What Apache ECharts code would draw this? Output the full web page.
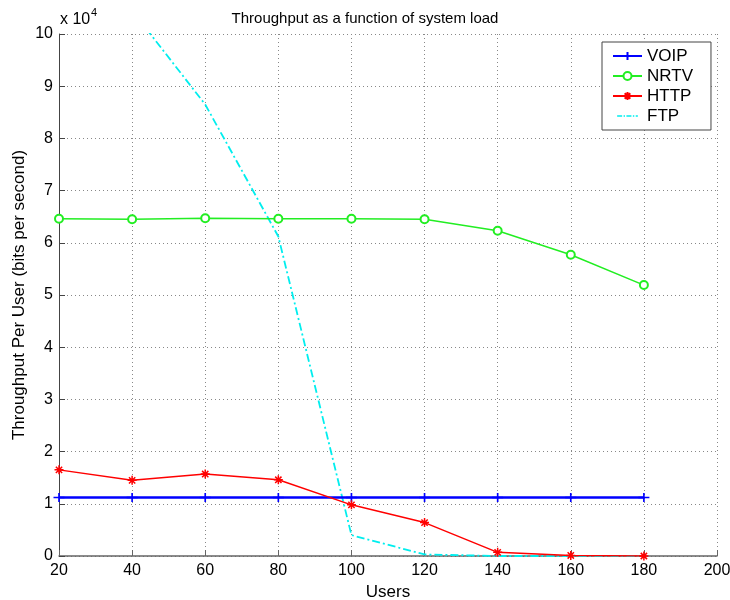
<!DOCTYPE html>
<html>
<head>
<meta charset="utf-8">
<script src="https://cdn.jsdelivr.net/npm/echarts@6/dist/echarts.min.js"></script>
<style>
html,body{margin:0;padding:0;background:#fff;}
#chart{width:730px;height:600px;}
</style>
</head>
<body>
<div id="chart"></div>
<script>
// Data (values in units of 10^4 bits per second)
const users = [20, 40, 60, 80, 100, 120, 140, 160, 180];
const voip = [1.12, 1.12, 1.12, 1.12, 1.12, 1.12, 1.12, 1.12, 1.12];
const nrtv = [6.46, 6.45, 6.47, 6.46, 6.46, 6.45, 6.23, 5.77, 5.19];
const http = [1.65, 1.45, 1.57, 1.46, 0.98, 0.64, 0.07, 0.01, 0.0];
const ftp = [12.3, 10.45, 8.65, 6.12, 0.40, 0.03, 0.0, 0.0, 0.0];
const xTicks = [20, 40, 60, 80, 100, 120, 140, 160, 180, 200];
const yTicks = [0, 1, 2, 3, 4, 5, 6, 7, 8, 9, 10];

const pairs = arr => users.map((u, i) => [u, arr[i]]);
const REG = '"Liberation Sans", Arial, sans-serif';

const plusPath = 'path://M0,-4L0,4M-5,0L5,0';
const starPath = 'path://M0,-5L0,5M-5,0L5,0M-3.5,-3.5L3.5,3.5M-3.5,3.5L3.5,-3.5';
// dash-dot legend icon (filled pieces)
const ftpIcon = 'path://M0,6h7v2h-7zM9,6h2v2h-2zM13,6h7v2h-7zM22,6h2v2h-2zM26,6h3v2h-3zM0,0h0v0zM0,14h0v0z';

const chart = echarts.init(document.getElementById('chart'), null, {renderer: 'canvas'});
chart.setOption({
  animation: false,
  backgroundColor: '#ffffff',
  title: {
    text: 'Throughput as a function of system load',
    left: 'center', top: 6,
    textStyle: {fontFamily: REG, fontSize: 15, fontWeight: 'normal', color: '#000'}
  },
  grid: {left: 59, right: 13, top: 34, bottom: 44, containLabel: false, outerBoundsMode: 'none'},
  legend: {
    orient: 'vertical', left: 602, top: 42,
    backgroundColor: '#fff', borderColor: '#444', borderWidth: 1,
    padding: [4, 18, 4, 10],
    itemWidth: 29, itemHeight: 10, itemGap: 0,
    textStyle: {fontFamily: REG, fontSize: 17, color: '#000', lineHeight: 20},
    data: ['VOIP', 'NRTV', 'HTTP', {name: 'FTP', icon: ftpIcon, itemStyle: {color: '#00eeee'}}]
  },
  xAxis: {
    type: 'value', min: 20, max: 200, interval: 20,
    name: 'Users', nameLocation: 'middle', nameGap: 26,
    nameTextStyle: {fontFamily: REG, fontSize: 17, color: '#000'},
    axisLine: {show: true, onZero: false, lineStyle: {color: '#666', width: 1.5}},
    axisTick: {show: true, inside: true, length: 6, lineStyle: {color: '#666'}},
    axisLabel: {fontFamily: REG, fontSize: 16, color: '#000', margin: 7,
      formatter: v => xTicks.includes(v) ? String(v) : ''},
    splitLine: {show: true, lineStyle: {type: [1, 3], color: '#888', width: 1}}
  },
  yAxis: {
    type: 'value', min: 0, max: 10, interval: 1,
    name: 'Throughput Per User (bits per second)', nameLocation: 'middle', nameGap: 31,
    nameRotate: 90, nameMoveOverlap: false,
    nameTextStyle: {fontFamily: REG, fontSize: 17, color: '#000'},
    axisLine: {show: true, onZero: false, lineStyle: {color: '#444', width: 1}},
    axisTick: {show: true, inside: true, length: 6, lineStyle: {color: '#444'}},
    axisLabel: {fontFamily: REG, fontSize: 16, color: '#000', margin: 6,
      formatter: v => yTicks.includes(v) ? String(v) : ''},
    splitLine: {show: true, lineStyle: {type: [1, 3], color: '#888', width: 1}}
  },
  graphic: [
    {type: 'text', left: 60, top: 12,
      style: {text: 'x 10', fontFamily: REG, fontSize: 16, fill: '#000'}},
    {type: 'text', left: 91, top: 7,
      style: {text: '4', fontFamily: REG, fontSize: 11, fill: '#000'}}
  ],
  series: [
    {name: 'VOIP', type: 'line', data: pairs(voip), color: '#0000ff',
      lineStyle: {width: 2.5, color: '#0000ff'},
      symbol: plusPath, symbolSize: [11, 9], showAllSymbol: true,
      itemStyle: {color: '#0000ff', borderColor: '#0000ff', borderWidth: 1.5}, z: 3},
    {name: 'NRTV', type: 'line', data: pairs(nrtv), color: '#22ee22',
      lineStyle: {width: 1.5, color: '#22ee22'},
      symbol: 'emptyCircle', symbolSize: 8,
      itemStyle: {color: '#22ee22', borderWidth: 1.5}, z: 4},
    {name: 'HTTP', type: 'line', data: pairs(http), color: '#ff0000',
      lineStyle: {width: 1.5, color: '#ff0000'},
      symbol: starPath, symbolSize: 9,
      itemStyle: {color: '#ff0000', borderColor: '#ff0000', borderWidth: 1.5}, z: 5},
    {name: 'FTP', type: 'line', data: pairs(ftp), color: '#00eeee',
      lineStyle: {width: 1.8, color: '#00eeee', type: [8, 3, 2, 3]},
      symbol: 'none', z: 2, clip: true}
  ]
});
</script>
</body>
</html>
